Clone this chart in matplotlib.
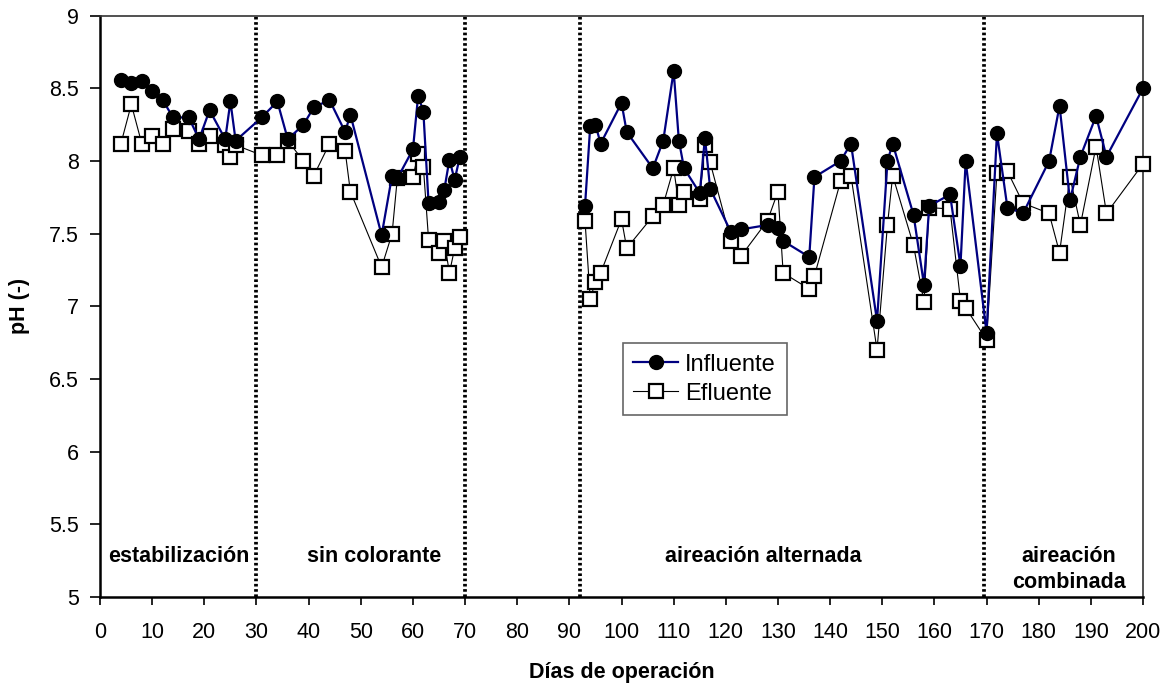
import matplotlib
matplotlib.use("Agg")
import matplotlib.pyplot as plt
import numpy as np

plt.rcParams["font.family"] = ["Liberation Sans", "DejaVu Sans"]

# Influente pH by day
inf_days = [4, 6, 8, 10, 12, 14, 17, 19, 21, 24, 25, 26, 31, 34, 36, 39, 41, 44, 47, 48,
            54, 56, 57, 60, 61, 62, 63, 65, 66, 67, 68, 69,
            93, 94, 95, 96, 100, 101, 106, 108, 110, 111, 112, 115, 116, 117, 121, 123,
            128, 130, 131, 136, 137, 142, 144, 149, 151, 152, 156, 158, 159, 163, 165, 166,
            170, 172, 174, 177, 182, 184, 186, 188, 191, 193, 200]
inf_ph = [8.56, 8.54, 8.55, 8.48, 8.42, 8.30, 8.30, 8.15, 8.35, 8.15, 8.41, 8.14, 8.30, 8.41, 8.15, 8.25, 8.37, 8.42, 8.20, 8.32,
          7.49, 7.90, 7.88, 8.08, 8.45, 8.34, 7.71, 7.72, 7.80, 8.01, 7.87, 8.03,
          7.69, 8.24, 8.25, 8.12, 8.40, 8.20, 7.95, 8.14, 8.62, 8.14, 7.95, 7.78, 8.16, 7.81, 7.51, 7.53,
          7.56, 7.54, 7.45, 7.34, 7.89, 8.00, 8.12, 6.90, 8.00, 8.12, 7.63, 7.15, 7.69, 7.77, 7.28, 8.00,
          6.82, 8.19, 7.68, 7.64, 8.00, 8.38, 7.73, 8.03, 8.31, 8.03, 8.50]

# Efluente pH by day
efl_days = inf_days
efl_ph = [8.12, 8.39, 8.12, 8.17, 8.12, 8.22, 8.21, 8.12, 8.17, 8.11, 8.03, 8.11, 8.04, 8.04, 8.14, 8.00, 7.90, 8.12, 8.07, 7.79,
          7.27, 7.50, 7.88, 7.89, 8.05, 7.96, 7.46, 7.37, 7.45, 7.23, 7.40, 7.48,
          7.59, 7.05, 7.17, 7.23, 7.60, 7.40, 7.62, 7.70, 7.95, 7.70, 7.79, 7.74, 8.11, 7.99, 7.45, 7.35,
          7.59, 7.79, 7.23, 7.12, 7.21, 7.86, 7.90, 6.70, 7.56, 7.90, 7.42, 7.03, 7.68, 7.67, 7.04, 6.99,
          6.77, 7.92, 7.93, 7.71, 7.64, 7.37, 7.89, 7.56, 8.10, 7.64, 7.98]

# phase boundaries and labels
phase_limits = [30, 70, 92, 169.5]
phase_labels = ["estabilización", "sin colorante", "aireación alternada", "aireación\ncombinada"]
phase_centers = [15.1, 52.6, 127.2, 185.8]


def with_gap(days, vals):
    # blank cells between day 69 and 93 -> no connecting line
    d = np.array(days, dtype=float)
    v = np.array(vals, dtype=float)
    k = int(np.argmax(np.diff(d) > 15)) + 1
    return np.insert(d, k, np.nan), np.insert(v, k, np.nan)


fig = plt.figure(figsize=(11.73, 6.86), dpi=100)
ax = fig.add_axes([0.0853, 0.1297, 0.8891, 0.8474])

x1, y1 = with_gap(inf_days, inf_ph)
x2, y2 = with_gap(efl_days, efl_ph)

ax.plot(x2, y2, color="black", lw=0.8, marker="s", ms=10.5, mfc="white", mec="black",
        mew=1.6, label="Efluente", zorder=3, clip_on=False)
ax.plot(x1, y1, color="#000080", lw=1.6, marker="o", ms=10, mfc="black", mec="black",
        label="Influente", zorder=4, clip_on=False)

for xv in phase_limits:
    ax.axvline(xv, color="black", ls=(0, (0.7, 0.7)), lw=2.7, zorder=2)

for xc, txt in zip(phase_centers, phase_labels):
    yc = 5.19 if "\n" in txt else 5.28
    ax.text(xc, yc, txt, ha="center", va="center", fontsize=15.5, fontweight="bold",
            linespacing=1.35)

ax.set_xlim(0, 200)
ax.set_ylim(5, 9)
ax.set_xticks(np.arange(0, 201, 10))
ax.set_yticks(np.arange(5, 9.01, 0.5))
ax.set_yticklabels(["5", "5.5", "6", "6.5", "7", "7.5", "8", "8.5", "9"])
ax.tick_params(axis="x", direction="out", length=6, width=1.2, pad=12, labelsize=15.5)
ax.tick_params(axis="y", direction="out", length=7, width=1.2, pad=8, labelsize=15.5)

ax.set_xlabel("Días de operación", fontsize=15.5, fontweight="bold", labelpad=14)
ax.set_ylabel("pH (-)", fontsize=15.5, fontweight="bold", labelpad=14)

for side in ["left", "bottom"]:
    ax.spines[side].set_linewidth(1.8)
for side in ["top", "right"]:
    ax.spines[side].set_linewidth(1.2)
    ax.spines[side].set_color("#333333")

h, l = ax.get_legend_handles_labels()
leg = ax.legend(h[::-1], l[::-1], loc="upper left", bbox_to_anchor=(0.501, 0.437),
                borderaxespad=0, fontsize=17, fancybox=False, framealpha=1,
                edgecolor="#666666", handlelength=1.9, handletextpad=0.3,
                labelspacing=0.3, borderpad=0.45)
leg.get_frame().set_linewidth(1.2)

fig.savefig("out.png", dpi=100)
